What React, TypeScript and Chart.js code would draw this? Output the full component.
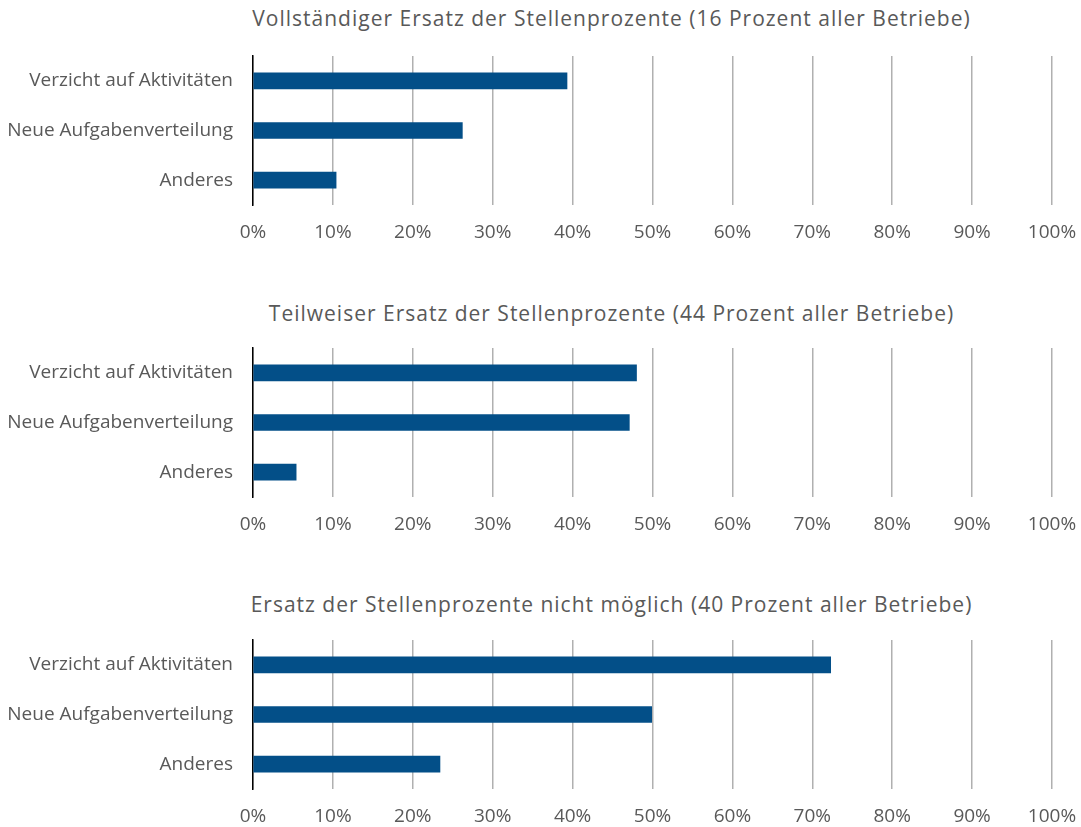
import React, { useEffect, useRef } from 'react';
import { Chart, registerables } from 'chart.js';

Chart.register(...registerables);

const categories = ['Verzicht auf Aktivitäten', 'Neue Aufgabenverteilung', 'Anderes'];
const panelTitles = [
  'Vollständiger Ersatz der Stellenprozente (16 Prozent aller Betriebe)',
  'Teilweiser Ersatz der Stellenprozente (44 Prozent aller Betriebe)',
  'Ersatz der Stellenprozente nicht möglich (40 Prozent aller Betriebe)',
];
const vollstaendigerErsatz = [39.3, 26.2, 10.4];
const teilweiserErsatz = [48.0, 47.1, 5.4];
const ersatzNichtMoeglich = [72.3, 49.9, 23.4];
const xTickValues = [0, 10, 20, 30, 40, 50, 60, 70, 80, 90, 100];

const FONT = "'Open Sans', 'DejaVu Sans', sans-serif";
const TEXT = '#595959';
const BAR = '#034f88';

function Panel({ title, values, top, titleTop }: { title: string; values: number[]; top: number; titleTop: number }) {
  const ref = useRef<HTMLCanvasElement | null>(null);
  useEffect(() => {
    if (!ref.current) return;
    const chart = new Chart(ref.current, {
      type: 'bar',
      data: {
        labels: categories,
        datasets: [
          {
            data: values,
            backgroundColor: BAR,
            borderWidth: 0,
            barThickness: 16,
          },
        ],
      },
      options: {
        indexAxis: 'y',
        responsive: false,
        animation: false,
        layout: { padding: { top: 10, right: 29, bottom: 0, left: 0 } },
        plugins: { legend: { display: false }, tooltip: { enabled: false }, title: { display: false } },
        scales: {
          x: {
            min: 0,
            max: 100,
            afterBuildTicks: (s: any) => {
              s.ticks = xTickValues.map((v) => ({ value: v }));
            },
            afterFit: (s: any) => {
              s.height = 51;
              s.paddingLeft = 0;
              s.paddingRight = 0;
            },
            grid: { color: '#b0b0b0', lineWidth: 1.5, drawTicks: false },
            border: { display: false },
            ticks: {
              padding: 16,
              color: TEXT,
              font: { family: FONT, size: 19 },
              maxRotation: 0,
              autoSkip: false,
              callback: (v: any) => v + '%',
            },
          },
          y: {
            afterFit: (s: any) => {
              s.width = 253;
              s.paddingTop = 0;
              s.paddingBottom = 0;
            },
            grid: { display: false, drawTicks: false },
            border: { display: true, color: '#000000', width: 1.5 },
            ticks: {
              padding: 20,
              color: TEXT,
              font: { family: FONT, size: 19 },
            },
          },
        },
      },
    });
    return () => chart.destroy();
  }, [values]);

  return (
    <>
      <div
        style={{
          position: 'absolute',
          top: titleTop,
          left: 142,
          width: 939,
          height: 36,
          lineHeight: '36px',
          textAlign: 'center',
          fontFamily: FONT,
          fontSize: 21,
          letterSpacing: '1px',
          color: TEXT,
          whiteSpace: 'nowrap',
        }}
      >
        {title}
      </div>
      <canvas
        ref={ref}
        width={1081}
        height={210}
        style={{ position: 'absolute', top: top + 46, left: 0, width: 1081, height: 210 }}
      />
    </>
  );
}

export default function App() {
  return (
    <div style={{ position: 'absolute', left: 0, top: 0, width: 1081, height: 827, background: '#ffffff' }}>
      <Panel title={panelTitles[0]} values={vollstaendigerErsatz} top={0} titleTop={0} />
      <Panel title={panelTitles[1]} values={teilweiserErsatz} top={292} titleTop={295} />
      <Panel title={panelTitles[2]} values={ersatzNichtMoeglich} top={584} titleTop={586} />
    </div>
  );
}
